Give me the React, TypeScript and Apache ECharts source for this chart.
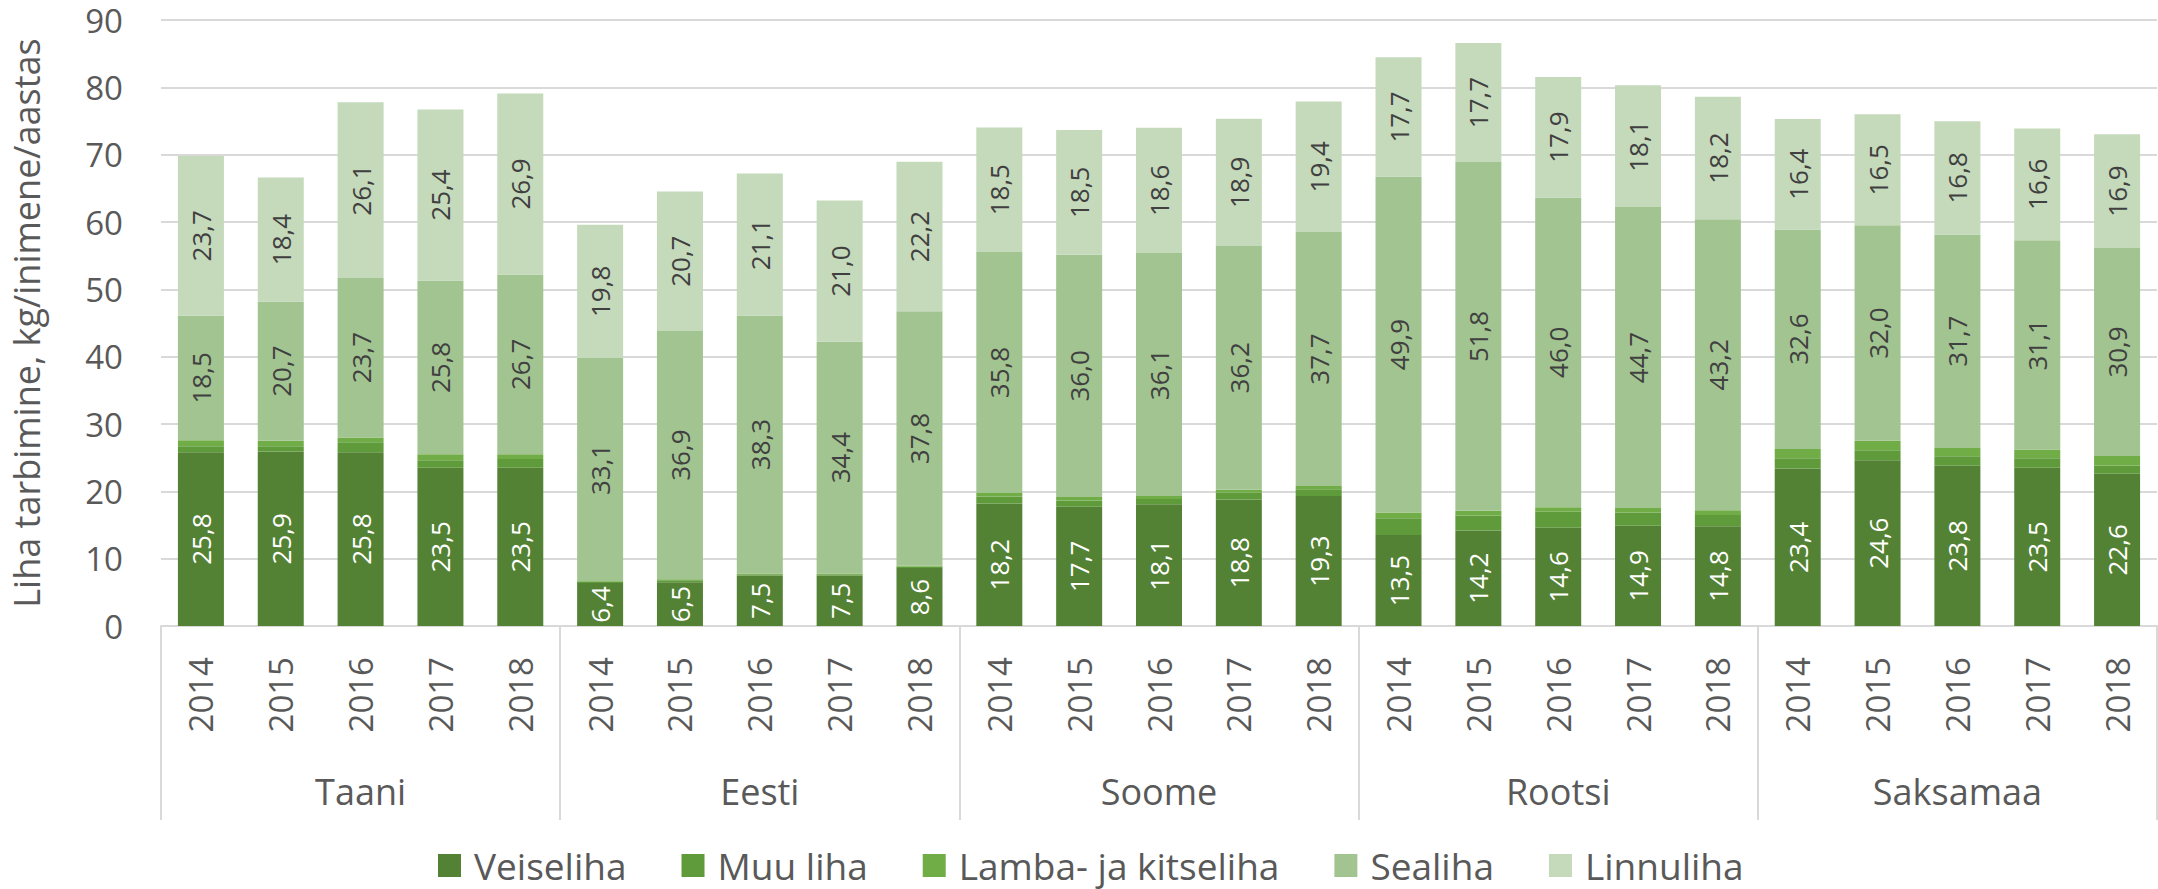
import React, { useEffect, useRef } from "react";
import * as echarts from "echarts";

const years = ["2014", "2015", "2016", "2017", "2018"];
const countries = ["Taani", "Eesti", "Soome", "Rootsi", "Saksamaa"];
const seriesNames = ["Veiseliha", "Muu liha", "Lamba- ja kitseliha", "Sealiha", "Linnuliha"];
const yTicks = { min: 0, max: 90, interval: 10 };

const veiseliha = [25.8, 25.9, 25.8, 23.5, 23.5, 6.4, 6.5, 7.5, 7.5, 8.6, 18.2, 17.7, 18.1, 18.8, 19.3, 13.5, 14.2, 14.6, 14.9, 14.8, 23.4, 24.6, 23.8, 23.5, 22.6];
const muuLiha = [0.9, 0.8, 1.5, 1.1, 1.3, 0.2, 0.3, 0.2, 0.2, 0.24, 1.05, 0.95, 0.75, 1.0, 1.0, 2.5, 2.2, 2.35, 1.95, 1.7, 1.5, 1.5, 1.4, 1.4, 1.25];
const lambaLiha = [0.9, 0.8, 0.7, 0.9, 0.7, 0.1, 0.13, 0.1, 0.1, 0.1, 0.5, 0.5, 0.45, 0.45, 0.5, 0.85, 0.7, 0.7, 0.67, 0.7, 1.4, 1.4, 1.25, 1.3, 1.4];
const sealiha = [18.5, 20.7, 23.7, 25.8, 26.7, 33.1, 36.9, 38.3, 34.4, 37.8, 35.8, 36.0, 36.1, 36.2, 37.7, 49.9, 51.8, 46.0, 44.7, 43.2, 32.6, 32.0, 31.7, 31.1, 30.9];
const linnuliha = [23.7, 18.4, 26.1, 25.4, 26.9, 19.8, 20.7, 21.1, 21.0, 22.2, 18.5, 18.5, 18.6, 18.9, 19.4, 17.7, 17.7, 17.9, 18.1, 18.2, 16.4, 16.5, 16.8, 16.6, 16.9];

const colors = ["#548235", "#5f9a3b", "#70ad47", "#a2c491", "#c5d9bb"];
const FONT = "Open Sans";

export default function App() {
  const ref = useRef<HTMLDivElement>(null);
  useEffect(() => {
    if (!ref.current) return;
    const chart = echarts.init(ref.current, null, { renderer: "svg" });
    const categories = countries.flatMap(() => years);
    const values = [veiseliha, muuLiha, lambaLiha, sealiha, linnuliha];
    const fmt = (p: any) => Number(p.value).toFixed(1).replace(".", ",");
    const series = seriesNames.map((name, i) => ({
      name,
      type: "bar",
      stack: "total",
      xAxisIndex: 0,
      barWidth: 46,
      data: values[i],
      itemStyle: { color: colors[i] },
      label: {
        show: i === 0 || i >= 3,
        position: "inside",
        rotate: 90,
        formatter: fmt,
        fontFamily: FONT,
        fontSize: 26,
        color: i === 0 ? "#ffffff" : "#404040",
      },
      emphasis: { disabled: true },
    }));
    chart.setOption({
      animation: false,
      color: colors,
      grid: { left: 155, right: 1, top: 20, bottom: 263, containLabel: false },
      legend: {
        left: 433,
        top: 842,
        itemWidth: 23,
        itemHeight: 23,
        itemGap: 55,
        icon: "rect",
        data: seriesNames,
        textStyle: { fontFamily: FONT, fontSize: 37, color: "#595959", padding: [0, 0, 0, 8] },
      },
      xAxis: [
        {
          type: "category",
          data: categories,
          position: "bottom",
          axisLine: { show: true, lineStyle: { color: "#d9d9d9", width: 2 } },
          axisTick: { show: false },
          axisLabel: {
            rotate: 90,
            margin: 31,
            interval: 0,
            fontFamily: FONT,
            fontSize: 33,
            color: "#595959",
          },
        },
        {
          type: "category",
          data: countries,
          position: "bottom",
          axisLine: { show: false },
          axisTick: { show: true, length: 194, lineStyle: { color: "#d9d9d9", width: 2 } },
          axisLabel: {
            margin: 165,
            verticalAlign: "middle",
            fontFamily: FONT,
            fontSize: 36,
            color: "#595959",
          },
        },
      ],
      yAxis: {
        type: "value",
        min: yTicks.min,
        max: yTicks.max,
        interval: yTicks.interval,
        name: "Liha tarbimine, kg/inimene/aastas",
        nameLocation: "middle",
        nameRotate: 90,
        nameGap: 117,
        nameTextStyle: { fontFamily: FONT, fontSize: 36, color: "#595959" },
        axisLine: { show: false },
        axisTick: { show: false },
        splitLine: { lineStyle: { color: "#d9d9d9", width: 2 } },
        axisLabel: { margin: 38, fontFamily: FONT, fontSize: 33, color: "#595959" },
      },
      series,
    });
    return () => chart.dispose();
  }, []);
  return (
    <div
      ref={ref}
      style={{ position: "fixed", left: 0, top: 0, width: 2158, height: 889, background: "#ffffff" }}
    />
  );
}
